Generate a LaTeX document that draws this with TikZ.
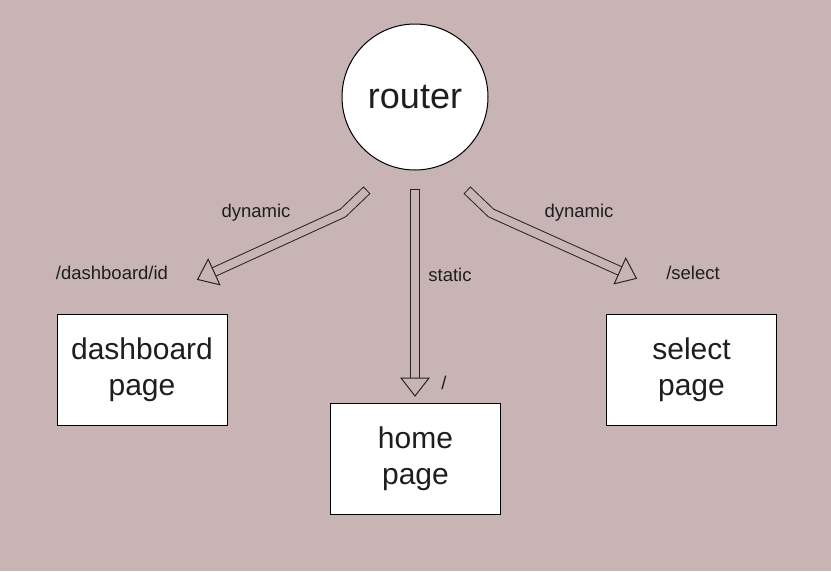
\documentclass[tikz,border=0pt]{standalone}
\usepackage{fontspec}
\setmainfont{Liberation Sans}
\usetikzlibrary{calc}
\definecolor{bgmauve}{HTML}{C8B4B4}
\definecolor{ink}{HTML}{1E1E1E}
\begin{document}
\begin{tikzpicture}[x=1pt,y=-1pt,
    page/.style={
      rectangle,
      draw=black,
      fill=white,
      line width=1pt,
      minimum width=170pt,
      minimum height=111pt,
      align=center,
      text=ink,
      font=\fontsize{30}{36}\selectfont
    },
    lbl/.style={text=ink, inner sep=1pt, font=\fontsize{18.5}{22}\selectfont},
    shaft/.style={line width=10pt, draw=black!85},
    shaftin/.style={line width=8pt, draw=bgmauve, shorten <=1pt},
    head/.style={line width=1pt, draw=black!85, fill=bgmauve, line join=miter}]
  \fill[bgmauve] (0,0) rectangle (831,571);
  \useasboundingbox (0,0) rectangle (831,571);

  \node[circle,draw=black,fill=white,line width=1pt,minimum size=146pt,
    text=ink,font=\fontsize{36}{40}\selectfont] (router) at (415,97) {router};

  \node[page] (dash) at (142,370) {dashboard\\page};
  \node[page] (home) at (415.5,459) {home\\page};
  \node[page] (sel) at (691.5,370) {select\\page};

  % arrow paths: start / bend / base of head
  \coordinate (ls) at (367,190);
  \coordinate (lb) at (343,213);
  \coordinate (le) at (214,272);
  \coordinate (ms) at (415,189);
  \coordinate (mb) at (415,280);
  \coordinate (me) at (415,378);
  \coordinate (rs) at (467,190);
  \coordinate (rb) at (491,213);
  \coordinate (re) at (620,271);

  \foreach \s/\b/\e in {ls/lb/le, ms/mb/me, rs/rb/re}{
    \draw[shaft] (\s) -- (\b) -- (\e);
    \draw[shaftin] (\s) -- (\b) -- (\e);
    \draw[head] ($(\e)!14pt!90:(\b)$) -- ($(\e)!-18pt!(\b)$)
      -- ($(\e)!14pt!-90:(\b)$) -- cycle;
  }

  \node[lbl] (dynl) at (256,213) {dynamic};
  \node[lbl] (pdash) at (112,273) {/dashboard/id};
  \node[lbl] (stat) at (450,275) {static};
  \node[lbl] (proot) at (444,383) {/};
  \node[lbl] (dynr) at (579,213) {dynamic};
  \node[lbl] (psel) at (693,273) {/select};
\end{tikzpicture}
\end{document}
